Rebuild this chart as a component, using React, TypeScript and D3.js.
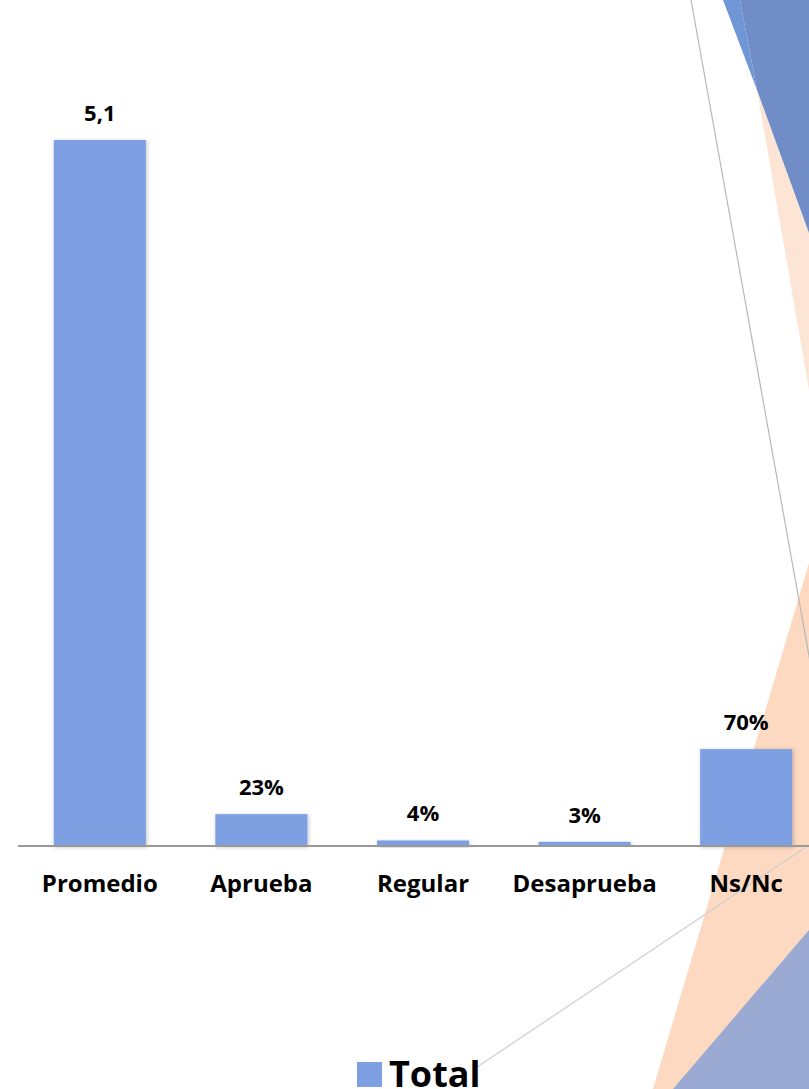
import React, { useRef, useEffect } from 'react';
import * as d3 from 'd3';

// chart data
const categories = ['Promedio', 'Aprueba', 'Regular', 'Desaprueba', 'Ns/Nc'];
const values = [5.1, 0.23, 0.04, 0.03, 0.7];
const valueLabels = ['5,1', '23%', '4%', '3%', '70%'];
const seriesName = 'Total';

const W = 809;
const H = 1089;
const FONT = '"Open Sans", Lato, sans-serif';

function App() {
  const svgRef = useRef<SVGSVGElement | null>(null);

  useEffect(() => {
    const svg = d3.select(svgRef.current);
    svg.selectAll('*').remove();

    // drop shadow for the bars
    const defs = svg.append('defs');
    const f = defs.append('filter').attr('id', 'shadow')
      .attr('x', '-20%').attr('y', '-20%').attr('width', '140%').attr('height', '140%');
    f.append('feDropShadow').attr('dx', 1).attr('dy', 1).attr('stdDeviation', 2)
      .attr('flood-color', '#000').attr('flood-opacity', 0.25);

    // slide decoration in the background
    const bg = svg.append('g');
    bg.append('polygon').attr('points', '757,90 809,233 809,390').attr('fill', '#fde5d6');
    bg.append('polygon').attr('points', '723,0 740,0 757,90').attr('fill', '#7096d8');
    bg.append('polygon').attr('points', '740,0 809,0 809,233 757,90').attr('fill', '#708dc8');
    bg.append('polygon').attr('points', '809,563 809,1089 653,1089').attr('fill', '#fcd9c0');
    bg.append('polygon').attr('points', '809,930 809,1089 673,1089').attr('fill', '#9aaad3');
    bg.append('line').attr('x1', 691).attr('y1', 0).attr('x2', 811).attr('y2', 667)
      .attr('stroke', '#b8b8b8').attr('stroke-width', 1.2);
    bg.append('line').attr('x1', 477).attr('y1', 1067).attr('x2', 809).attr('y2', 845)
      .attr('stroke', '#cfcfcf').attr('stroke-width', 1.2);

    // scales
    const x = d3.scaleBand<string>()
      .domain(categories)
      .range([19, 827])
      .paddingInner(0.43)
      .paddingOuter(0.215);

    const y = d3.scaleLinear()
      .domain([0, 5.1])
      .range([846, 140]);

    const data = categories.map((c, i) => ({ c, v: values[i], label: valueLabels[i] }));

    svg.append('g')
      .selectAll('rect')
      .data(data)
      .enter()
      .append('rect')
      .attr('x', d => x(d.c) as number)
      .attr('y', d => y(d.v))
      .attr('width', x.bandwidth())
      .attr('height', d => y(0) - y(d.v))
      .attr('fill', '#7f9fe3')
      .attr('filter', 'url(#shadow)');

    // baseline
    svg.append('line')
      .attr('x1', 18).attr('x2', W)
      .attr('y1', y(0)).attr('y2', y(0))
      .attr('stroke', '#999').attr('stroke-width', 2);

    // value labels
    svg.append('g')
      .selectAll('text')
      .data(data)
      .enter()
      .append('text')
      .attr('x', d => (x(d.c) as number) + x.bandwidth() / 2)
      .attr('y', d => y(d.v) - 19)
      .attr('text-anchor', 'middle')
      .attr('font-family', FONT)
      .attr('font-weight', 'bold')
      .attr('font-size', 22)
      .attr('fill', '#000')
      .text(d => d.label);

    // category axis labels
    svg.append('g')
      .selectAll('text')
      .data(categories)
      .enter()
      .append('text')
      .attr('x', d => (x(d) as number) + x.bandwidth() / 2)
      .attr('y', 892)
      .attr('text-anchor', 'middle')
      .attr('font-family', FONT)
      .attr('font-weight', 'bold')
      .attr('font-size', 24)
      .attr('fill', '#000')
      .text(d => d);

    // legend
    const lg = svg.append('g');
    lg.append('rect').attr('x', 357).attr('y', 1062).attr('width', 25).attr('height', 25)
      .attr('fill', '#7f9fe3');
    lg.append('text')
      .attr('x', 389).attr('y', 1087)
      .attr('font-family', FONT)
      .attr('font-weight', 'bold')
      .attr('font-size', 36)
      .attr('fill', '#000')
      .text(seriesName);
  }, []);

  return (
    <svg
      ref={svgRef}
      width={W}
      height={H}
      style={{ position: 'absolute', left: 0, top: 0, background: '#fff' }}
    />
  );
}

export default App;
